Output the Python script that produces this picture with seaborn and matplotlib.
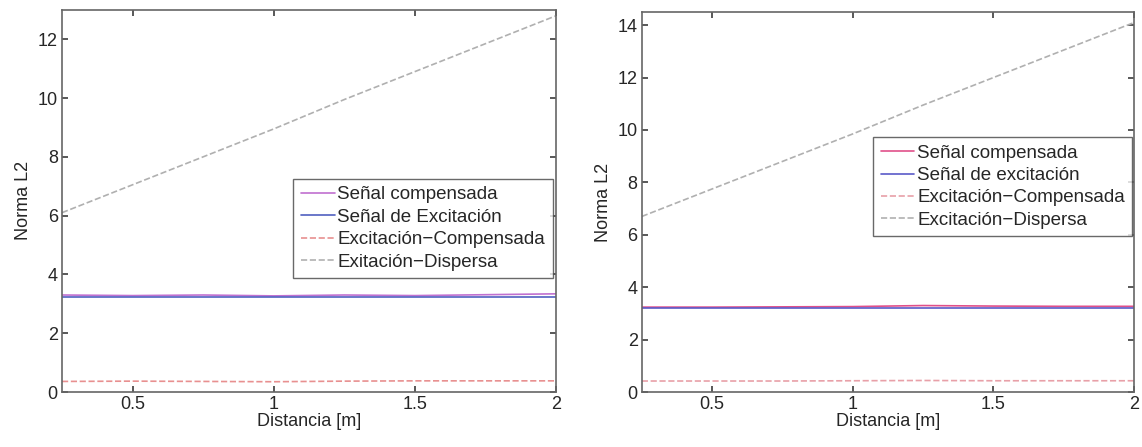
import numpy as np
import pandas as pd
import matplotlib
matplotlib.use("Agg")
import matplotlib.pyplot as plt
import seaborn as sns

sns.set_theme(style="white")
plt.rcParams['font.family'] = ['Liberation Sans', 'DejaVu Sans']

# Distance samples (m)
distancia = [0.25, 0.5, 0.75, 1.0, 1.25, 1.5, 1.75, 2.0]

# Left panel
left_compensada = [3.30, 3.28, 3.30, 3.27, 3.30, 3.28, 3.31, 3.34]
left_excitacion = [3.22, 3.22, 3.22, 3.22, 3.22, 3.22, 3.22, 3.22]
left_exc_comp = [0.36, 0.37, 0.36, 0.35, 0.37, 0.38, 0.38, 0.38]
left_dispersa = [6.1, 7.05, 8.0, 8.95, 9.95, 10.9, 11.85, 12.8]
left_labels = ["Señal compensada", "Señal de Excitación",
               "Excitación−Compensada", "Exitación−Dispersa"]

# Right panel
right_compensada = [3.24, 3.24, 3.25, 3.26, 3.30, 3.28, 3.27, 3.27]
right_excitacion = [3.22, 3.22, 3.22, 3.22, 3.22, 3.22, 3.22, 3.22]
right_exc_comp = [0.42, 0.42, 0.42, 0.43, 0.44, 0.43, 0.43, 0.43]
right_dispersa = [6.7, 7.75, 8.8, 9.85, 10.95, 12.0, 13.05, 14.1]
right_labels = ["Señal compensada", "Señal de excitación",
                "Excitación−Compensada", "Excitación−Dispersa"]

xticks = [0.5, 1, 1.5, 2]
xticklabels = ["0.5", "1", "1.5", "2"]

fig = plt.figure(figsize=(11.42, 4.47), dpi=100)
ax1 = fig.add_axes([0.0543, 0.123, 0.4327, 0.855])
ax2 = fig.add_axes([0.562, 0.123, 0.431, 0.850])


def draw(ax, series, labels, colors, styles, ylim, yticks, legend_bbox):
    for vals, lab, col, ls in zip(series, labels, colors, styles):
        df = pd.DataFrame({"x": distancia, "y": vals})
        sns.lineplot(data=df, x="x", y="y", ax=ax, color=col, linestyle=ls,
                     linewidth=1.2, label=lab)
    ax.set_xlim(0.25, 2)
    ax.set_ylim(*ylim)
    ax.set_xticks(xticks)
    ax.set_xticklabels(xticklabels)
    ax.set_yticks(yticks)
    ax.set_yticklabels([str(t) for t in yticks])
    ax.set_xlabel("Distancia [m]", fontsize=13, labelpad=0)
    ax.set_ylabel("Norma L2", fontsize=13, labelpad=4)
    ax.tick_params(labelsize=13, direction="in", length=4, color="#444444",
                   pad=3, top=True, right=True, bottom=True, left=True)
    for s in ax.spines.values():
        s.set_color("#666666")
        s.set_linewidth(1.2)
    leg = ax.legend(loc="upper left", bbox_to_anchor=legend_bbox,
                    fontsize=13.5, frameon=True, fancybox=False,
                    handlelength=1.8, handletextpad=0.15, borderpad=0.4,
                    labelspacing=0.28, borderaxespad=0)
    leg.get_frame().set_edgecolor("#444444")
    leg.get_frame().set_linewidth(1.0)


left_colors = ["#c070d0", "#5060c0", "#e89090", "#b0b0b0"]
right_colors = ["#e0508a", "#5a5ac8", "#e8a0a8", "#b0b0b0"]
styles = ["-", "-", "--", "--"]

draw(ax1, [left_compensada, left_excitacion, left_exc_comp, left_dispersa],
     left_labels, left_colors, styles, (0, 13), [0, 2, 4, 6, 8, 10, 12],
     (0.468, 0.558))
draw(ax2, [right_compensada, right_excitacion, right_exc_comp, right_dispersa],
     right_labels, right_colors, styles, (0, 14.5), [0, 2, 4, 6, 8, 10, 12, 14],
     (0.470, 0.671))

fig.savefig("out.png", dpi=100)
